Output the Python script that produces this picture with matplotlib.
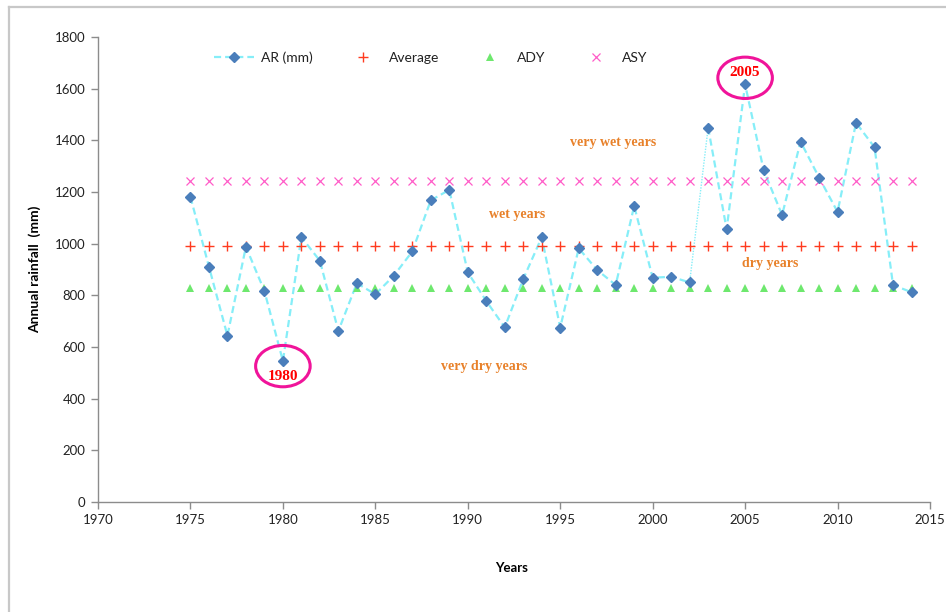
import matplotlib
matplotlib.use("Agg")
import matplotlib.pyplot as plt
from matplotlib.patches import Ellipse
from matplotlib.lines import Line2D

# ---- data ----
years = list(range(1975, 2015))
rainfall = [1181, 911, 644, 988, 817, 546, 1025, 934, 662, 847,
            804, 876, 970, 1168, 1208, 889, 778, 676, 863, 1025,
            675, 982, 898, 840, 1146, 868, 872, 850, 1449, 1056,
            1617, 1285, 1111, 1395, 1256, 1123, 1468, 1373, 840, 812]
average_value = 992
ady_value = 827
asy_value = 1243
average = [average_value] * len(years)
ady = [ady_value] * len(years)
asy = [asy_value] * len(years)

zone_labels = ["very wet years", "wet years", "dry years", "very dry years"]
zone_x = [1997.85, 1992.66, 2006.33, 1990.88]
zone_y = [1392, 1111, 924, 526]

highlight_years = [1980, 2005]

x_ticks = [1970, 1975, 1980, 1985, 1990, 1995, 2000, 2005, 2010, 2015]
y_ticks = [0, 200, 400, 600, 800, 1000, 1200, 1400, 1600, 1800]

# ---- figure ----
fig = plt.figure(figsize=(9.46, 6.12), dpi=100)
ax = fig.add_axes([98/946, 1-502/612, (930-98)/946, (502-37)/612])

line_col = "#86EEF8"
dia_col = "#4A7EBB"

# main dashed line (split where the thin dotted segment is)
gap = years.index(2002)
ax.plot(years[:gap+1], rainfall[:gap+1], linestyle=(0, (3.2, 1.8)), color=line_col, lw=1.6, zorder=3)
ax.plot(years[gap+1:], rainfall[gap+1:], linestyle=(0, (3.2, 1.8)), color=line_col, lw=1.6, zorder=3)
ax.plot(years[gap:gap+2], rainfall[gap:gap+2], linestyle=(0, (1, 1)), color=line_col, lw=1.0, zorder=3)
ax.plot(years, rainfall, linestyle="none", marker="D", ms=4.6, color=dia_col, zorder=5)

ax.plot(years, average, linestyle="none", marker="+", ms=6.5, mew=1.0, color="#FF3B1F", zorder=4)
ax.plot(years, ady, linestyle="none", marker="^", ms=6.3, color="#6EE86E", mew=0, zorder=4)
ax.plot(years, asy, linestyle="none", marker="x", ms=5.5, mew=0.9, color="#FF5CC8", zorder=4)

# zone labels
for t, xx, yy in zip(zone_labels, zone_x, zone_y):
    ax.text(xx, yy, t, ha="center", va="center", color="#E8812A",
            fontfamily="Liberation Serif", fontweight="bold", fontsize=10, zorder=6)

# highlighted years
for hy in highlight_years:
    idx = years.index(hy)
    val = rainfall[idx]
    if val < average_value:
        cy, ty = val - 20, val - 60
    else:
        cy, ty = val + 25, val + 45
    ax.add_patch(Ellipse((hy, cy), width=2.95, height=160, fill=False,
                         edgecolor="#F0149A", lw=2.2, zorder=6))
    ax.text(hy, ty, str(hy), ha="center", va="center", color="#FF0000",
            fontfamily="Liberation Serif", fontweight="bold", fontsize=11, zorder=7)

# axes styling
ax.set_xlim(1970, 2015)
ax.set_ylim(0, 1800)
ax.set_xticks(x_ticks)
ax.set_yticks(y_ticks)
for s in ["top", "right"]:
    ax.spines[s].set_visible(False)
for s in ["left", "bottom"]:
    ax.spines[s].set_color("#8C8C8C")
    ax.spines[s].set_linewidth(1.0)
ax.tick_params(direction="out", length=5, width=1.0, color="#8C8C8C",
               labelsize=9.5, labelcolor="#222222", pad=4)
for lab in ax.get_xticklabels() + ax.get_yticklabels():
    lab.set_fontfamily("Lato")

ax.set_ylabel("Annual rainfall  (mm)", fontfamily="Lato", fontweight="bold", fontsize=10)
ax.yaxis.set_label_coords(-(98-41)/832, 0.5)
fig.text(512/946, 1-568/612, "Years", ha="center", va="center",
         fontfamily="Lato", fontweight="bold", fontsize=9.5)

# legend
handles = [
    Line2D([], [], linestyle=(0, (3.2, 1.8)), color=line_col, lw=1.6, marker="D", ms=4.6,
           markerfacecolor=dia_col, markeredgecolor=dia_col),
    Line2D([], [], linestyle="none", marker="+", ms=6.5, mew=1.0, color="#FF3B1F"),
    Line2D([], [], linestyle="none", marker="^", ms=6.3, mew=0, color="#6EE86E"),
    Line2D([], [], linestyle="none", marker="x", ms=5.5, mew=0.9, color="#FF5CC8"),
]
leg = ax.legend(handles, ["AR (mm)", "Average", "ADY", "ASY"], ncol=4, frameon=False,
                loc="center left", bbox_to_anchor=((214-98)/832, 1-(58-37)/465),
                prop={"family": "Lato", "size": 10}, handlelength=2.9, handletextpad=0.45,
                columnspacing=2.2, borderaxespad=0, borderpad=0)
for t in leg.get_texts():
    t.set_color("#222222")

# outer light gray frame (left, top)
fig.add_artist(Line2D([9/946, 9/946], [0, 1-7/612], transform=fig.transFigure, color="#C8C8C8", lw=1.6))
fig.add_artist(Line2D([9/946, 1], [1-7/612, 1-7/612], transform=fig.transFigure, color="#C8C8C8", lw=1.6))

fig.savefig("out.png", dpi=100)
